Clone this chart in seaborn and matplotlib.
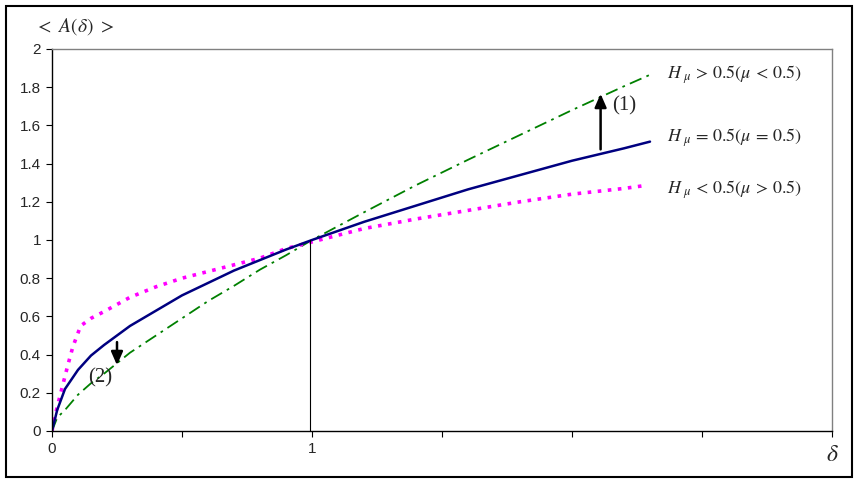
import numpy as np
import pandas as pd
import matplotlib
matplotlib.use("Agg")
import matplotlib.pyplot as plt
from matplotlib.patches import Rectangle
import seaborn as sns

# ------------------ DATA ------------------
DELTA_BLUE = [0, 0.02, 0.05, 0.1, 0.15, 0.2, 0.3, 0.4, 0.5, 0.6, 0.7, 0.8, 0.9, 1.0,
              1.2, 1.4, 1.6, 1.8, 2.0, 2.2, 2.3]
A_BLUE = [0, 0.11, 0.22, 0.32, 0.395, 0.45, 0.55, 0.63, 0.71, 0.775, 0.84, 0.895, 0.95, 1.0,
          1.095, 1.18, 1.265, 1.34, 1.415, 1.48, 1.515]

DELTA_GREEN = [0, 0.02, 0.05, 0.1, 0.15, 0.2, 0.3, 0.4, 0.5, 0.6, 0.7, 0.8, 0.9, 1.0,
               1.2, 1.4, 1.6, 1.8, 2.0, 2.2, 2.3]
A_GREEN = [0, 0.07, 0.11, 0.19, 0.25, 0.30, 0.41, 0.50, 0.59, 0.68, 0.76, 0.845, 0.92, 1.0,
           1.145, 1.287, 1.42, 1.55, 1.68, 1.805, 1.865]

DELTA_MAGENTA = [0, 0.01, 0.03, 0.06, 0.08, 0.11, 0.15, 0.2, 0.3, 0.4, 0.5, 0.6, 0.7, 0.8,
                 0.9, 1.0, 1.2, 1.4, 1.6, 1.8, 2.0, 2.2, 2.28]
A_MAGENTA = [0, 0.07, 0.18, 0.34, 0.44, 0.55, 0.59, 0.625, 0.70, 0.755, 0.80, 0.835, 0.87,
             0.905, 0.955, 0.99, 1.06, 1.11, 1.155, 1.20, 1.24, 1.27, 1.285]

LABELS = [r"$H_{\ \mu}\,>\,0.5(\mu\,<\,0.5)$",
          r"$H_{\ \mu}\,=\,0.5(\mu\,=\,0.5)$",
          r"$H_{\ \mu}\,<\,0.5(\mu\,>\,0.5)$"]
X_TICKS = [0, 0.5, 1, 1.5, 2, 2.5, 3]
X_TICK_LABELS = ["0", "", "1", "", "", "", ""]
Y_TICKS = [0, 0.2, 0.4, 0.6, 0.8, 1, 1.2, 1.4, 1.6, 1.8, 2]
Y_TICK_LABELS = ["0", "0.2", "0.4", "0.6", "0.8", "1", "1.2", "1.4", "1.6", "1.8", "2"]

# ------------------ STYLE ------------------
sns.set_style("white")
plt.rcParams["font.family"] = ["Liberation Sans", "DejaVu Sans"]
plt.rcParams["mathtext.fontset"] = "stix"

fig = plt.figure(figsize=(8.6, 4.84), dpi=100)
ax = fig.add_axes([52 / 860, 53 / 484, 780 / 860, 382 / 484])

# ------------------ CURVES ------------------
sns.lineplot(x=DELTA_GREEN, y=A_GREEN, ax=ax, color="#008000", linewidth=1.3,
             linestyle=(0, (7, 3, 1.5, 3)), sort=False)
sns.lineplot(x=DELTA_MAGENTA, y=A_MAGENTA, ax=ax, color="#FF00FF", linewidth=2.6,
             linestyle=(0, (1, 1.8)), sort=False)
sns.lineplot(x=DELTA_BLUE, y=A_BLUE, ax=ax, color="#000080", linewidth=1.8, sort=False)

# vertical guide at delta = 1
ax.plot([0.992, 0.992], [0, 1], color="black", linewidth=0.8)

# ------------------ AXES ------------------
ax.set_xlim(0, 3)
ax.set_ylim(0, 2)
ax.set_xticks(X_TICKS)
ax.set_xticklabels(X_TICK_LABELS, fontsize=11)
ax.set_yticks(Y_TICKS)
ax.set_yticklabels(Y_TICK_LABELS, fontsize=11)
ax.tick_params(axis="both", direction="out", length=4, width=0.8, color="black",
               left=True, bottom=True, pad=4)
for side in ["left", "bottom"]:
    ax.spines[side].set_color("black")
    ax.spines[side].set_linewidth(1.0)
for side in ["top", "right"]:
    ax.spines[side].set_color("#808080")
    ax.spines[side].set_linewidth(1.0)

# ------------------ TEXT ------------------
fig.text(35 / 860, 1 - 27 / 484, r"$<\ A(\delta)\ >$", fontsize=14, va="center", ha="left")
fig.text(832 / 860, 1 - 455 / 484, r"$\delta$", fontsize=17, va="center", ha="center")

for lab, ypx in zip(LABELS, [75, 138, 190]):
    fig.text(667 / 860, 1 - ypx / 484, lab, fontsize=13, va="center", ha="left")

arrow_kw = dict(arrowstyle="-|>,head_length=0.8,head_width=0.35", color="black", lw=1.8)
ax.annotate("", xy=(2.11, 1.78), xytext=(2.11, 1.46), arrowprops=arrow_kw)
ax.annotate("", xy=(0.25, 0.33), xytext=(0.25, 0.48), arrowprops=arrow_kw)
ax.text(2.2, 1.70, "(1)", fontsize=15, family=["Liberation Serif"], va="center", ha="center")
ax.text(0.185, 0.28, "(2)", fontsize=15, family=["Liberation Serif"], va="center", ha="center")

# outer frame around the chart
fig.patches.append(Rectangle((6 / 860, 7 / 484), 846 / 860, 471 / 484, transform=fig.transFigure,
                             fill=False, edgecolor="black", linewidth=1.5))

fig.savefig("out.png", dpi=100)
